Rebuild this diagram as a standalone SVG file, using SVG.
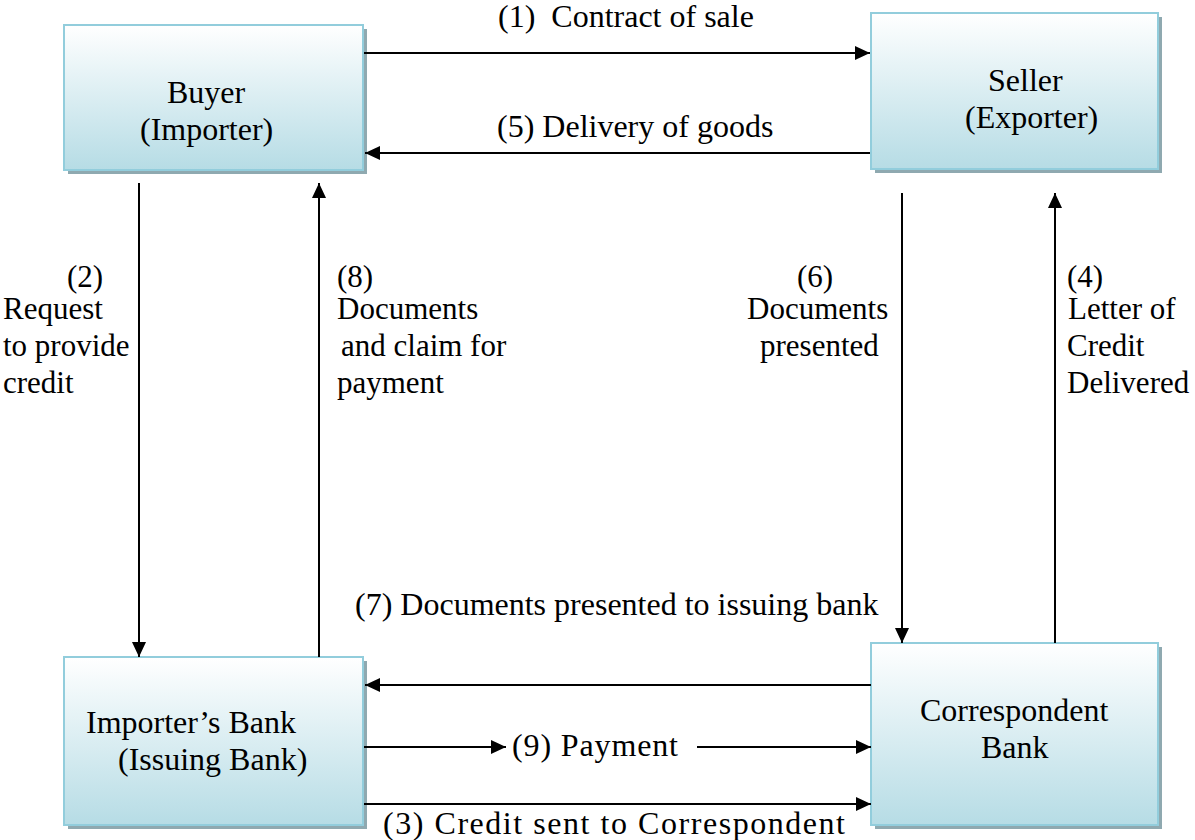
<svg xmlns="http://www.w3.org/2000/svg" width="1195" height="840" viewBox="0 0 1195 840">
  <style>
    .t { font-family: 'Liberation Serif', 'DejaVu Serif', serif; font-size: 32px; fill: #000; }
    .s { font-size: 31px; }
    .box { fill: url(#boxGrad); stroke: #92cddc; stroke-width: 2; }
    .shadow { fill: #8fa9b0; }
    .conn { stroke: #000; stroke-width: 2; fill: none; marker-end: url(#arrow); }
  </style>
  <defs>
    <linearGradient id="boxGrad" x1="0" y1="0" x2="0" y2="1">
      <stop offset="0" stop-color="#ffffff"/>
      <stop offset="1" stop-color="#b6dce5"/>
    </linearGradient>
    <marker id="arrow" markerUnits="userSpaceOnUse" markerWidth="16" markerHeight="14" refX="15" refY="7" orient="auto">
      <path d="M0,0 L15,7 L0,14 Z" fill="#000"/>
    </marker>
  </defs>

  <g id="buyer" class="t" font-family="Liberation Serif, DejaVu Serif, serif">
    <rect class="shadow" x="68" y="29" width="299" height="145"/>
    <rect class="box" x="64" y="25" width="299" height="145"/>
    <text x="167" y="103">Buyer</text>
    <text x="140" y="140">(Importer)</text>
  </g>

  <g id="seller" class="t" font-family="Liberation Serif, DejaVu Serif, serif">
    <rect class="shadow" x="875" y="17" width="287" height="156"/>
    <rect class="box" x="871" y="13" width="287" height="156"/>
    <text x="988" y="91">Seller</text>
    <text x="965" y="128">(Exporter)</text>
  </g>

  <g id="importers-bank" class="t" font-family="Liberation Serif, DejaVu Serif, serif">
    <rect class="shadow" x="68" y="661" width="299" height="168"/>
    <rect class="box" x="64" y="657" width="299" height="168"/>
    <text x="86" y="733">Importer’s Bank</text>
    <text x="118" y="770">(Issuing Bank)</text>
  </g>

  <g id="correspondent-bank" class="t" font-family="Liberation Serif, DejaVu Serif, serif">
    <rect class="shadow" x="875" y="647" width="287" height="182"/>
    <rect class="box" x="871" y="643" width="287" height="182"/>
    <text x="920" y="721">Correspondent</text>
    <text x="981" y="758">Bank</text>
  </g>

  <g id="connectors">
    <line class="conn" x1="364" y1="53" x2="870" y2="53"/>
    <line class="conn" x1="870" y1="153" x2="365" y2="153"/>
    <line class="conn" x1="139" y1="183" x2="139" y2="657"/>
    <line class="conn" x1="319" y1="657" x2="319" y2="183"/>
    <line class="conn" x1="902" y1="193" x2="902" y2="643"/>
    <line class="conn" x1="1055" y1="643" x2="1055" y2="193"/>
    <line class="conn" x1="871" y1="685" x2="365" y2="685"/>
    <line class="conn" x1="364" y1="747" x2="506" y2="747"/>
    <line class="conn" x1="697" y1="747" x2="871" y2="747"/>
    <line class="conn" x1="364" y1="804" x2="871" y2="804"/>
  </g>

  <g id="labels" class="t" font-family="Liberation Serif, DejaVu Serif, serif">
    <text x="498" y="27">(1) &#160;Contract of sale</text>
    <text x="497" y="137">(5) Delivery of goods</text>
    <text class="s" x="67" y="287">(2)</text>
    <text class="s" x="3" y="319">Request</text>
    <text class="s" x="3" y="356">to provide</text>
    <text class="s" x="3" y="393">credit</text>
    <text class="s" x="337" y="287">(8)</text>
    <text class="s" x="337" y="319">Documents</text>
    <text class="s" x="341" y="356">and claim for</text>
    <text class="s" x="337" y="393">payment</text>
    <text class="s" x="797" y="287">(6)</text>
    <text class="s" x="747" y="319">Documents</text>
    <text class="s" x="760" y="356">presented</text>
    <text class="s" x="1067" y="287">(4)</text>
    <text class="s" x="1068" y="319">Letter of</text>
    <text class="s" x="1067" y="356">Credit</text>
    <text class="s" x="1067" y="393">Delivered</text>
    <text x="355" y="615">(7) Documents presented to issuing bank</text>
    <text x="512" y="756" textLength="166">(9) Payment</text>
    <text x="383" y="834" textLength="462">(3) Credit sent to Correspondent</text>
  </g>
</svg>
